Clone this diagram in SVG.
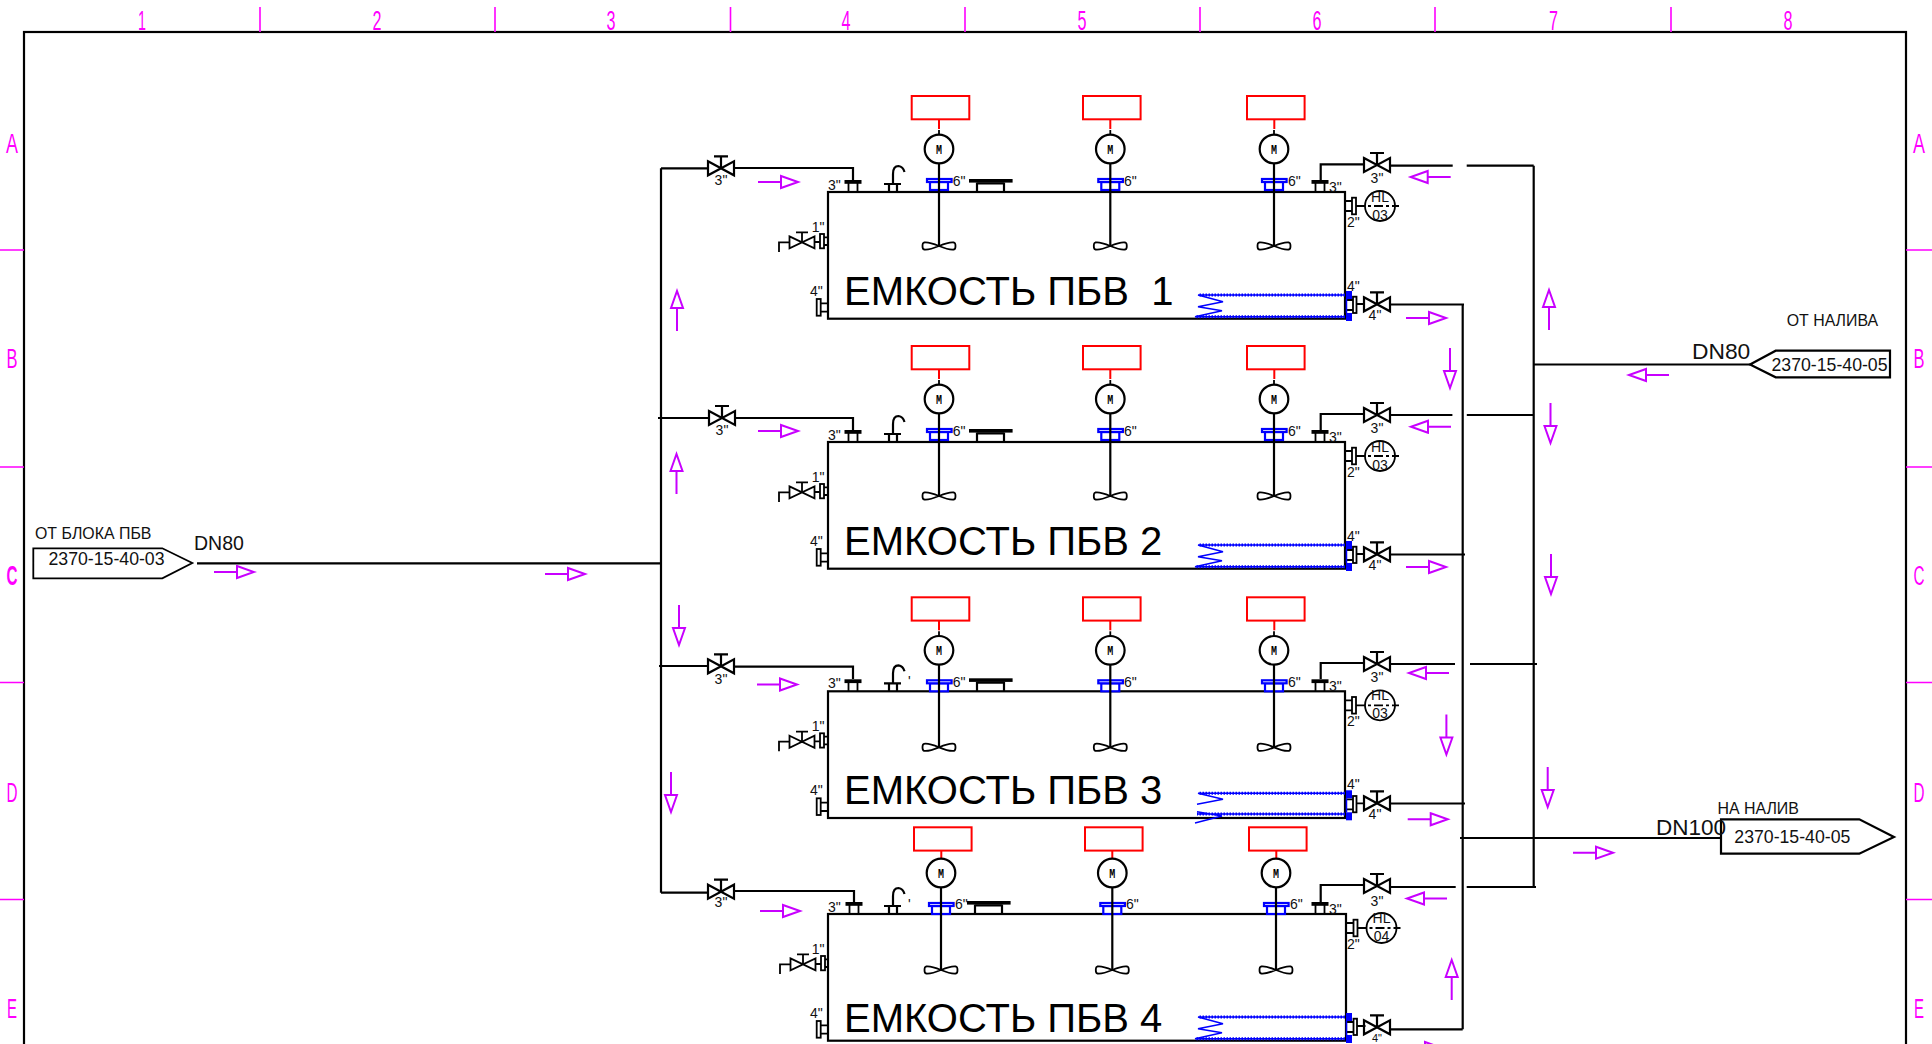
<svg xmlns="http://www.w3.org/2000/svg" width="1932" height="1044" viewBox="0 0 1932 1044">
<style>
.ln{fill:none;stroke:#000;stroke-width:2.2}
.th{fill:none;stroke:#000;stroke-width:1.8}
.arr{fill:none;stroke:#c800ff;stroke-width:2}
.frm{fill:none;stroke:#ff00ff;stroke-width:1.6}
.red{fill:none;stroke:#f00;stroke-width:2}
.blu{fill:#fff;stroke:#00f;stroke-width:2.2}
text{font-family:"Liberation Sans",Arial,sans-serif;fill:#111}
.t14{font-size:14px}
.t11{font-size:11px}
.mid{text-anchor:middle}
.t15{font-size:15.9px}
.t17{font-size:17.7px}
.big{font-size:40px;fill:#000}
.zone{font-size:27px;fill:#ff00ff;text-anchor:middle}
.m{font-family:"Liberation Mono",monospace;font-size:13px;font-weight:bold;text-anchor:middle;fill:#000}
</style>
<defs>
<g id="valve" class="ln"><path d="M-13,-7 L13,7 V-7 L-13,7 Z"/><path d="M0,0 V-12 M-7,-12 H7"/></g>
<g id="valvesm" class="th"><path d="M-12.5,-6 L12.5,6 V-6 L-12.5,6 Z"/><path d="M0,0 V-10 M-6,-10 H6"/></g>
<g id="noztop"><rect x="-8.5" y="-12" width="17" height="3.8" fill="#000"/><path class="th" d="M-4.5,-9 V0 M4.5,-9 V0"/></g>
<g id="vent" class="ln"><path d="M56,-8 H73 M61,-8 V0 M69,-8 V0 M65,-8 V-18 Q65,-26 70.5,-26 Q75,-25.5 76.5,-20"/></g>
<g id="manhole"><rect x="141" y="-13" width="43.6" height="3.6" fill="#000"/><path class="ln" d="M149,-9.5 V0 M176,-9.5 V0 M149,-8.6 H176"/></g>
<g id="agit"><circle cx="0" cy="-41" r="14.3" fill="#fff" stroke="#000" stroke-width="2.2"/><rect class="blu" x="-9" y="-8" width="18" height="8"/><rect class="blu" x="-12" y="-11" width="24.6" height="3"/><path class="ln" d="M0,-26.7 V56"/><path class="th" d="M0,56 C-6,53.5 -12,52 -15,52.5 C-17,53 -17,59 -15,59.5 C-12,60 -6,58.5 0,56 C6,53.5 12,52 15,52.5 C17,53 17,59 15,59.5 C12,60 6,58.5 0,56 Z"/></g>
<g id="mbox"><rect class="red" x="0" y="0" width="57.6" height="23.3"/><path class="red" d="M27.3,23.3 V33"/></g>
<path id="stub" class="th" d="M0,-62 V-55"/>
<g id="drain"><path class="th" d="M-4,45.3 H0 M-4,53 H0 M-14,50 H-8"/><rect class="th" x="-8" y="42" width="4" height="14.3"/><use href="#valvesm" x="-26" y="50.4"/><path class="th" d="M-39,50.4 H-49 V60"/></g>
<g id="outlet"><path class="th" d="M-7.3,111.3 H0 M-7.3,119.7 H0"/><rect class="th" x="-11.3" y="107" width="4" height="16.7"/></g>
<g id="level"><path class="th" d="M0,9 H7 M0,19 H7"/><rect class="th" x="7" y="5.7" width="4" height="16.6"/><circle class="th" cx="35" cy="14" r="15"/><path class="th" stroke-dasharray="9 3 3 3" d="M11,14 H54"/></g>
<g id="outr"><path class="th" d="M1,108 H8 M1,118 H8 M11.5,112 H20"/><rect class="th" x="8" y="104.7" width="3.5" height="16.3"/></g>
<g id="outb"><rect x="1" y="99" width="6" height="8" fill="#00f"/><rect x="1" y="121" width="6" height="8" fill="#00f"/><path d="M1.5,107 V121" stroke="#00f" stroke-width="1.5" fill="none"/></g>
<g id="coil"><path fill="none" stroke="#00f" stroke-width="1.4" d="M0,103 H-147 L-122,109.7 L-147,114.7 L-123,118.7 L-150,124.7 H0"/><path fill="none" stroke="#00f" stroke-width="3" stroke-dasharray="1.5 1.5" d="M0,103 H-147 M0,124.7 H-150"/></g>
<g id="coil3"><path fill="none" stroke="#00f" stroke-width="1.4" d="M0,102 H-147 L-122,108 L-148,113 M-148,120.5 L-123,124.7 L-150,131.7 M-148,122.7 H0"/><path fill="none" stroke="#00f" stroke-width="3" stroke-dasharray="1.5 1.5" d="M0,102 H-147 M0,122.7 H-148"/></g>
<path id="arrow" class="arr" d="M0,0 H23 M23,-6 L40,0 L23,6 Z"/>
</defs>
<g id="frame">
<rect x="24" y="32" width="1882" height="1100" class="ln"/>
<path class="frm" d="M260,7 V32 M495,7 V32 M730.5,7 V32 M965,7 V32 M1200,7 V32 M1435,7 V32 M1671,7 V32 M0,250 H24 M0,467 H24 M0,682.5 H24 M0,899.5 H24 M1906,250 H1932 M1906,467 H1932 M1906,682.5 H1932 M1906,899.5 H1932"/>
<text class="zone" x="142" y="30" textLength="8" lengthAdjust="spacingAndGlyphs">1</text><text class="zone" x="377" y="30" textLength="9" lengthAdjust="spacingAndGlyphs">2</text><text class="zone" x="611" y="30" textLength="9" lengthAdjust="spacingAndGlyphs">3</text><text class="zone" x="846" y="30" textLength="9" lengthAdjust="spacingAndGlyphs">4</text><text class="zone" x="1082" y="30" textLength="9" lengthAdjust="spacingAndGlyphs">5</text><text class="zone" x="1317" y="30" textLength="9" lengthAdjust="spacingAndGlyphs">6</text><text class="zone" x="1553.5" y="30" textLength="9" lengthAdjust="spacingAndGlyphs">7</text><text class="zone" x="1788" y="30" textLength="9" lengthAdjust="spacingAndGlyphs">8</text>
<text class="zone" x="12" y="153" textLength="12" lengthAdjust="spacingAndGlyphs">A</text><text class="zone" x="12" y="368" textLength="11" lengthAdjust="spacingAndGlyphs">B</text><text class="zone" x="12" y="585" textLength="11" lengthAdjust="spacingAndGlyphs" font-weight="bold">C</text><text class="zone" x="12" y="802" textLength="11" lengthAdjust="spacingAndGlyphs">D</text><text class="zone" x="12" y="1018" textLength="10" lengthAdjust="spacingAndGlyphs">E</text>
<text class="zone" x="1919" y="153" textLength="12" lengthAdjust="spacingAndGlyphs">A</text><text class="zone" x="1919" y="368" textLength="11" lengthAdjust="spacingAndGlyphs">B</text><text class="zone" x="1919" y="585" textLength="11" lengthAdjust="spacingAndGlyphs">C</text><text class="zone" x="1919" y="802" textLength="11" lengthAdjust="spacingAndGlyphs">D</text><text class="zone" x="1919" y="1018" textLength="10" lengthAdjust="spacingAndGlyphs">E</text>
</g>
<g id="connectors">
<path class="ln" d="M197,563.3 H661"/>
<path class="ln" d="M661,168.3 V892.7"/>
<path class="ln" d="M661,168.3 H708 M734,168 H853 V180"/>
<path class="ln" d="M658,418 H708 M734,418 H853 V430"/>
<path class="ln" d="M659,666 H708 M734,666.7 H853 V679"/>
<path class="ln" d="M661,892.7 H708 M734,891 H854 V902"/>
<path class="ln" d="M1320.7,180 V164.3 H1364 M1390,165.7 H1452.7 M1466.7,165.7 H1533.7"/>
<path class="ln" d="M1320.7,430 V414 H1364 M1390,415 H1452.4 M1466.8,415 H1533.7"/>
<path class="ln" d="M1320.7,679 V663 H1364 M1390,664 H1455 M1470,664 H1537"/>
<path class="ln" d="M1320.7,902 V885 H1364 M1390,887 H1455.7 M1466.7,887 H1536"/>
<path class="ln" d="M1390,304.5 H1464 M1390,554.5 H1465 M1390,803.5 H1465 M1390,1029.3 H1462.7"/>
<path class="ln" d="M1462.7,304 V1029.3"/>
<path class="ln" d="M1533.7,165.7 V887"/>
<path class="ln" d="M1534,364.5 H1750"/>
<path class="ln" d="M1460,838 H1722"/>
<use href="#arrow" transform="translate(214,572)"/>
<use href="#arrow" transform="translate(545,574)"/>
<use href="#arrow" transform="translate(677,331) rotate(-90)"/>
<use href="#arrow" transform="translate(676.5,494) rotate(-90)"/>
<use href="#arrow" transform="translate(679,605) rotate(90)"/>
<use href="#arrow" transform="translate(671,772) rotate(90)"/>
<use href="#arrow" transform="translate(758,182)"/>
<use href="#arrow" transform="translate(758,431)"/>
<use href="#arrow" transform="translate(757,684.5)"/>
<use href="#arrow" transform="translate(760,911)"/>
<use href="#arrow" transform="translate(1450.7,177) rotate(180)"/>
<use href="#arrow" transform="translate(1451,426.7) rotate(180)"/>
<use href="#arrow" transform="translate(1449,673) rotate(180)"/>
<use href="#arrow" transform="translate(1447,898.5) rotate(180)"/>
<use href="#arrow" transform="translate(1406,318)"/>
<use href="#arrow" transform="translate(1406,567)"/>
<use href="#arrow" transform="translate(1407.7,819.3)"/>
<use href="#arrow" transform="translate(1402,1048)"/>
<use href="#arrow" transform="translate(1450,348) rotate(90)"/>
<use href="#arrow" transform="translate(1446.4,714.5) rotate(90)"/>
<use href="#arrow" transform="translate(1451.7,1000) rotate(-90)"/>
<use href="#arrow" transform="translate(1549,330) rotate(-90)"/>
<use href="#arrow" transform="translate(1550.5,403) rotate(90)"/>
<use href="#arrow" transform="translate(1551,554) rotate(90)"/>
<use href="#arrow" transform="translate(1547.7,767) rotate(90)"/>
<use href="#arrow" transform="translate(1573,852.7)"/>
<use href="#arrow" transform="translate(1669,375) rotate(180)"/>
</g>
<g id="inlet-c">
<path class="th" d="M33.3,548.3 H162.3 L192.3,563 L162.3,578.3 H33.3 Z"/>
<text class="t17" x="48.5" y="565">2370-15-40-03</text>
<text class="t15" x="35" y="539">ОТ БЛОКА ПБВ</text>
<text x="194" y="550" style="font-size:19.5px">DN80</text>
</g>
<g id="inlet-b">
<path class="ln" d="M1750,364.5 L1775.7,350.7 H1890 V377.3 H1775.7 Z"/>
<text class="t17" x="1771.5" y="370.7">2370-15-40-05</text>
<text class="t15" x="1786.7" y="326">ОТ НАЛИВА</text>
<text x="1692" y="359" style="font-size:22.8px">DN80</text>
</g>
<g id="outlet-d">
<path class="ln" d="M1721,819.3 H1859.3 L1894,837 L1859.3,853.7 H1721 Z"/>
<text class="t17" x="1734.3" y="842.7">2370-15-40-05</text>
<text class="t15" x="1717.5" y="814.3">НА НАЛИВ</text>
<text x="1656" y="835" style="font-size:22.5px">DN100</text>
</g>
<g id="tank1" transform="translate(0,192)">
<rect class="ln" x="828" y="0" width="517" height="126.7"/>
<text class="big" x="844" y="113" xml:space="preserve">ЕМКОСТЬ ПБВ  1</text>
<use href="#valve" x="721" y="-23.7"/><text class="t14 mid" x="721" y="-7">3"</text>
<use href="#noztop" x="853"/><text class="t14" x="828" y="-2">3"</text>
<use href="#vent" x="828"/>
<use href="#manhole" x="828"/>
<use href="#mbox" x="911.7" y="-96"/><use href="#stub" x="939" y="0"/><use href="#agit" x="939" y="-2"/><text class="m" x="939" y="-38.5" textLength="6" lengthAdjust="spacingAndGlyphs">M</text><text class="t14" x="952.7" y="-6.3">6"</text>
<use href="#mbox" x="1083" y="-96"/><use href="#stub" x="1110.3" y="0"/><use href="#agit" x="1110.3" y="-2"/><text class="m" x="1110.3" y="-38.5" textLength="6" lengthAdjust="spacingAndGlyphs">M</text><text class="t14" x="1124" y="-6.3">6"</text>
<use href="#mbox" x="1247" y="-96"/><use href="#stub" x="1274" y="0"/><use href="#agit" x="1274" y="-2"/><text class="m" x="1274" y="-38.5" textLength="6" lengthAdjust="spacingAndGlyphs">M</text><text class="t14" x="1288" y="-6.3">6"</text>
<use href="#noztop" x="1320"/><text class="t14" x="1329" y="0">3"</text>
<use href="#valve" x="1377" y="-27"/><text class="t14 mid" x="1377" y="-9">3"</text>
<use href="#drain" x="828"/><text class="t14" x="811.7" y="39.7">1"</text>
<use href="#outlet" x="828"/><text class="t14" x="810" y="104">4"</text>
<use href="#level" x="1345"/><text class="t14" x="1347" y="34.6">2"</text><text class="t14 mid" x="1380" y="9.7">HL</text><text class="t14 mid" x="1380" y="28">03</text>
<use href="#outr" x="1345"/><use href="#valve" x="1377" y="112.3"/><text class="t14" x="1347" y="98.7">4"</text><text class="t14 mid" x="1375" y="128">4"</text>
<use href="#coil" x="1345"/><use href="#outb" x="1345"/>
</g>
<g id="tank2" transform="translate(0,442)">
<rect class="ln" x="828" y="0" width="517" height="126.7"/>
<text class="big" x="844" y="113">ЕМКОСТЬ ПБВ 2</text>
<use href="#valve" x="722" y="-24"/><text class="t14 mid" x="722" y="-7">3"</text>
<use href="#noztop" x="853"/><text class="t14" x="828" y="-2">3"</text>
<use href="#vent" x="828"/>
<use href="#manhole" x="828"/>
<use href="#mbox" x="911.7" y="-96"/><use href="#stub" x="939" y="0"/><use href="#agit" x="939" y="-2"/><text class="m" x="939" y="-38.5" textLength="6" lengthAdjust="spacingAndGlyphs">M</text><text class="t14" x="952.7" y="-6.3">6"</text>
<use href="#mbox" x="1083" y="-96"/><use href="#stub" x="1110.3" y="0"/><use href="#agit" x="1110.3" y="-2"/><text class="m" x="1110.3" y="-38.5" textLength="6" lengthAdjust="spacingAndGlyphs">M</text><text class="t14" x="1124" y="-6.3">6"</text>
<use href="#mbox" x="1247" y="-96"/><use href="#stub" x="1274" y="0"/><use href="#agit" x="1274" y="-2"/><text class="m" x="1274" y="-38.5" textLength="6" lengthAdjust="spacingAndGlyphs">M</text><text class="t14" x="1288" y="-6.3">6"</text>
<use href="#noztop" x="1320"/><text class="t14" x="1329" y="0">3"</text>
<use href="#valve" x="1377" y="-27"/><text class="t14 mid" x="1377" y="-9">3"</text>
<use href="#drain" x="828"/><text class="t14" x="811.7" y="39.7">1"</text>
<use href="#outlet" x="828"/><text class="t14" x="810" y="104">4"</text>
<use href="#level" x="1345"/><text class="t14" x="1347" y="34.6">2"</text><text class="t14 mid" x="1380" y="9.7">HL</text><text class="t14 mid" x="1380" y="28">03</text>
<use href="#outr" x="1345"/><use href="#valve" x="1377" y="112.3"/><text class="t14" x="1347" y="98.7">4"</text><text class="t14 mid" x="1375" y="128">4"</text>
<use href="#coil" x="1345"/><use href="#outb" x="1345"/>
</g>
<g id="tank3" transform="translate(0,691.3)">
<rect class="ln" x="828" y="0" width="517" height="126.7"/>
<text class="big" x="844" y="113">ЕМКОСТЬ ПБВ 3</text>
<use href="#valve" x="721" y="-25"/><text class="t14 mid" x="721" y="-7">3"</text>
<use href="#noztop" x="853"/><text class="t14" x="828" y="-3">3"</text>
<use href="#vent" x="828"/><text class="t14" x="908" y="-5">'</text>
<use href="#manhole" x="828"/>
<use href="#mbox" x="911.7" y="-94"/><use href="#stub" x="939" y="2"/><use href="#agit" x="939" y="0"/><text class="m" x="939" y="-36.5" textLength="6" lengthAdjust="spacingAndGlyphs">M</text><text class="t14" x="952.7" y="-4.3">6"</text>
<use href="#mbox" x="1083" y="-94"/><use href="#stub" x="1110.3" y="2"/><use href="#agit" x="1110.3" y="0"/><text class="m" x="1110.3" y="-36.5" textLength="6" lengthAdjust="spacingAndGlyphs">M</text><text class="t14" x="1124" y="-4.3">6"</text>
<use href="#mbox" x="1247" y="-94"/><use href="#stub" x="1274" y="2"/><use href="#agit" x="1274" y="0"/><text class="m" x="1274" y="-36.5" textLength="6" lengthAdjust="spacingAndGlyphs">M</text><text class="t14" x="1288" y="-4.3">6"</text>
<use href="#noztop" x="1320"/><text class="t14" x="1329" y="0">3"</text>
<use href="#valve" x="1377" y="-27.3"/><text class="t14 mid" x="1377" y="-9">3"</text>
<use href="#drain" x="828"/><text class="t14" x="811.7" y="39.7">1"</text>
<use href="#outlet" x="828"/><text class="t14" x="810" y="104">4"</text>
<use href="#level" x="1345"/><text class="t14" x="1347" y="34.6">2"</text><text class="t14 mid" x="1380" y="9">HL</text><text class="t14 mid" x="1380" y="27">03</text>
<use href="#outr" x="1345"/><use href="#valve" x="1377" y="112"/><text class="t14" x="1347" y="98">4"</text><text class="t14 mid" x="1375" y="128">4"</text>
<use href="#coil3" x="1345"/><use href="#outb" x="1345"/>
</g>
<g id="tank4" transform="translate(0,914)">
<rect class="ln" x="828" y="0" width="518" height="126.7"/>
<text class="big" x="844" y="117.7">ЕМКОСТЬ ПБВ 4</text>
<use href="#valve" x="721" y="-22.3"/><text class="t14 mid" x="721" y="-7.3">3"</text>
<use href="#noztop" x="854"/><text class="t14" x="828" y="-2">3"</text>
<use href="#vent" x="828"/><text class="t14" x="908" y="-5">'</text>
<use href="#manhole" x="826"/>
<use href="#mbox" x="914" y="-86.7"/><use href="#agit" x="941" y="0"/><text class="m" x="941" y="-36.5" textLength="6" lengthAdjust="spacingAndGlyphs">M</text><text class="t14" x="955" y="-4.7">6"</text>
<use href="#mbox" x="1085" y="-86.7"/><use href="#agit" x="1112.3" y="0"/><text class="m" x="1112.3" y="-36.5" textLength="6" lengthAdjust="spacingAndGlyphs">M</text><text class="t14" x="1126" y="-4.7">6"</text>
<use href="#mbox" x="1249" y="-86.7"/><use href="#agit" x="1276" y="0"/><text class="m" x="1276" y="-36.5" textLength="6" lengthAdjust="spacingAndGlyphs">M</text><text class="t14" x="1290" y="-4.7">6"</text>
<use href="#noztop" x="1320"/><text class="t14" x="1329" y="0">3"</text>
<use href="#valve" x="1377" y="-28"/><text class="t14 mid" x="1377" y="-8">3"</text>
<use href="#drain" x="829"/><text class="t14" x="811.7" y="39.7">1"</text>
<use href="#outlet" x="828"/><text class="t14" x="810" y="104">4"</text>
<use href="#level" x="1346.5"/><text class="t14" x="1347" y="34.6">2"</text><text class="t14 mid" x="1381.5" y="9">HL</text><text class="t14 mid" x="1381.5" y="27">04</text>
<use href="#outr" x="1345.5"/><use href="#valve" x="1377" y="113.3"/><text class="t11 mid" x="1377" y="127.6">4"</text>
<use href="#coil" x="1345"/><use href="#outb" x="1345"/>
</g>
</svg>
